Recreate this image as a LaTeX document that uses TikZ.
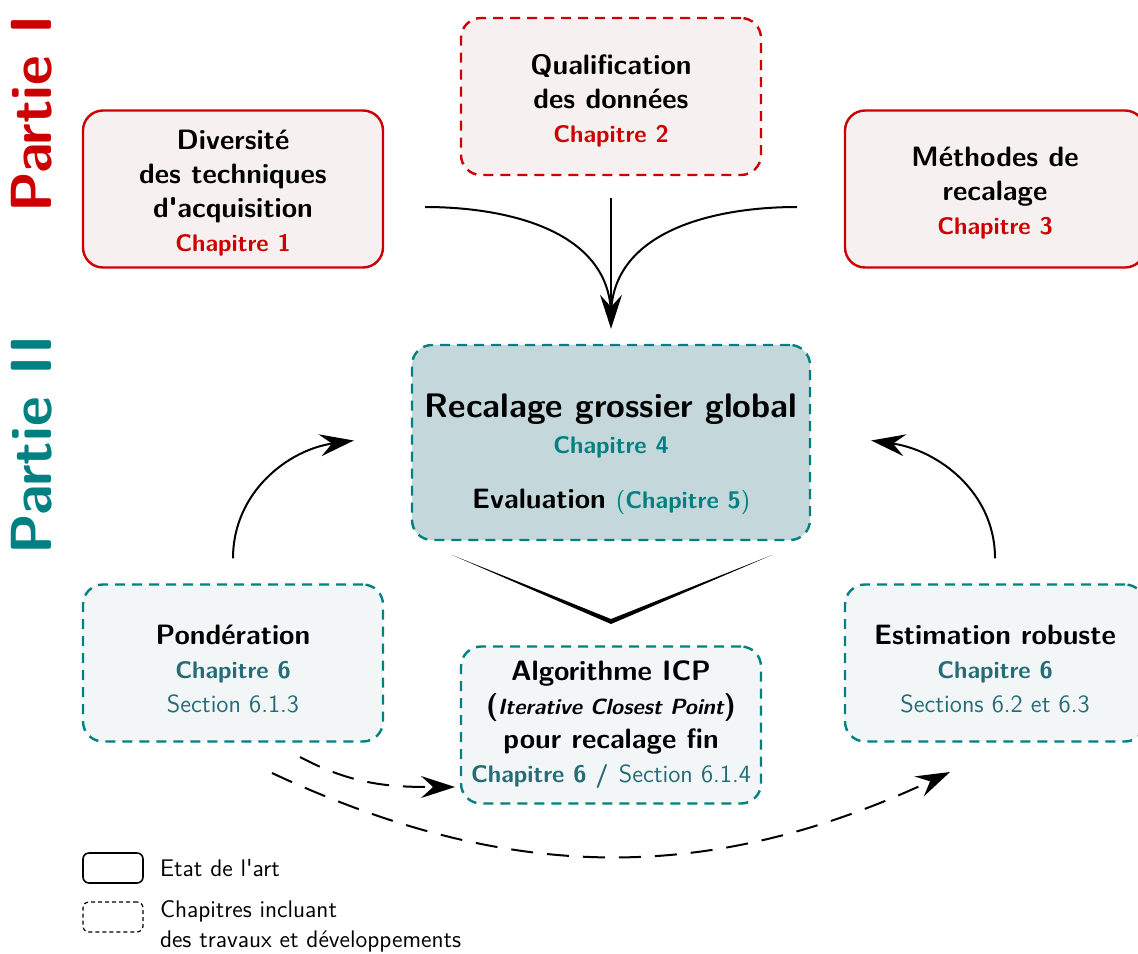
\documentclass[tikz,border=0pt]{standalone}
\usepackage{fontspec}
\usetikzlibrary{arrows.meta,positioning}

\definecolor{rouge}{RGB}{204,0,0}
\definecolor{rosefond}{RGB}{246,240,240}
\definecolor{sarcelle}{RGB}{0,128,128}
\definecolor{sarcfonce}{RGB}{38,108,118}
\definecolor{sarcfond}{RGB}{242,246,247}
\definecolor{sarcmoyen}{RGB}{196,216,220}

\newcommand{\chapR}[1]{{\fontsize{12}{14}\selectfont\color{rouge}#1}}
\newcommand{\chapS}[1]{{\fontsize{12}{14}\selectfont\color{sarcelle}#1}}
\newcommand{\chapF}[1]{{\fontsize{12}{14}\selectfont\color{sarcfonce}#1}}
\newcommand{\sectF}[1]{{\fontsize{12.4}{14}\selectfont\mdseries\color{sarcfonce}#1}}

\begin{document}
\begin{tikzpicture}[x=0.5pt,y=-0.5pt,
		boite/.style={rounded corners=10pt,minimum width=150pt,minimum height=78.5pt,align=center,
			line width=1.2pt,inner sep=0pt,font=\sffamily\bfseries\fontsize{14}{17}\selectfont},
		pointille/.style={dash pattern=on 5pt off 3.5pt},
		etat/.style={boite,draw=rouge,fill=rosefond},
		trav/.style={boite,pointille,draw=sarcelle,fill=sarcfond},
		glob/.style={trav,fill=sarcmoyen,minimum width=199pt,minimum height=97.5pt},
		trait/.style={line width=1pt},
		fleche/.style={trait,-{Stealth[length=17pt,width=11pt,inset=6pt]}},
		tirets/.style={dash pattern=on 11pt off 7pt},
		partie/.style={rotate=90,font=\sffamily\bfseries\fontsize{29}{32}\selectfont},
		legende/.style={font=\sffamily\fontsize{12}{15}\selectfont,align=left,inner sep=0pt}]
	\useasboundingbox (0,0) rectangle (1138,953);
	\node[partie,text=rouge] (p1) at (32,114) {Partie I};
	\node[partie,text=sarcelle] (p2) at (32,445) {Partie II};
	% etat de l'art
	\node[etat] (div) at (233,189) {\rule{0pt}{14pt}Diversité\\des techniques\\d\textquotesingle acquisition\\\chapR{Chapitre 1}};
	\node[etat,pointille] (qual) at (611,96.5) {\rule{0pt}{14pt}Qualification\\des données\\\chapR{Chapitre 2}};
	\node[etat] (meth) at (995,189) {\rule{0pt}{14pt}Méthodes de\\recalage\\\chapR{Chapitre 3}};
	% travaux
	\node[glob] (global) at (611,442.5) {\rule{0pt}{24pt}{\fontsize{17}{19}\selectfont Recalage grossier global}\\[1pt]\chapS{Chapitre 4}\\[10.5pt]
		Evaluation \chapS{{\mdseries(}Chapitre 5{\mdseries)}}};
	\node[trav] (ponder) at (233,663) {\rule{0pt}{16pt}Pondération\\\chapF{Chapitre 6}\\\sectF{Section 6.1.3}};
	\node[trav] (icp) at (611,725) {Algorithme ICP\\({\fontsize{11}{13}\selectfont\itshape Iterative Closest Point})\\pour recalage fin\\
		\chapF{Chapitre 6 /} \sectF{Section 6.1.4}};
	\node[trav] (robust) at (995,663) {\rule{0pt}{16pt}Estimation robuste\\\chapF{Chapitre 6}\\\sectF{Sections 6.2 et 6.3}};
	% fleches
	\coordinate (g1) at (425,207);
	\coordinate (d1) at (797,207);
	\coordinate (jonction) at (611,316);
	\draw[trait] (g1) to[out=0,in=90] (jonction);
	\draw[trait] (d1) to[out=180,in=90] (jonction);
	\draw[fleche,shorten <=11pt,shorten >=7.5pt] (qual) -- (global);
	\draw[fleche] ([yshift=12.5pt]ponder.north) to[out=90,in=188] ([xshift=-28.5pt,yshift=1pt]global.west);
	\draw[fleche] ([yshift=12.5pt]robust.north) to[out=90,in=-8] ([xshift=30pt,yshift=1pt]global.east);
	\fill (452,555) -- (611,619) -- (772,555) -- (611,624) -- cycle;
	\coordinate (a1) at (300,757);
	\coordinate (a2) at (455,787);
	\coordinate (b1) at (272,773);
	\coordinate (b2) at (950,772);
	\draw[fleche,tirets] (a1) to[out=-28,in=180] (a2);
	\draw[fleche,tirets] (b1) to[out=-25,in=205] (b2);
	% legende
	\node[draw,rounded corners=3pt,minimum width=30pt,minimum height=15pt,line width=0.8pt] (lplein) at (113,868) {};
	\node[draw,rounded corners=3pt,minimum width=30pt,minimum height=15pt,line width=0.6pt,dash pattern=on 2pt off 1.5pt] (ltiret) at (113,917) {};
	\node[legende,right=8pt of lplein] (letat) {Etat de l\textquotesingle art};
	\node[legende,anchor=north west] (ltrav) at ([xshift=8pt,yshift=0.5pt]ltiret.north east) {Chapitres incluant\\des travaux et développements};
\end{tikzpicture}
\end{document}
